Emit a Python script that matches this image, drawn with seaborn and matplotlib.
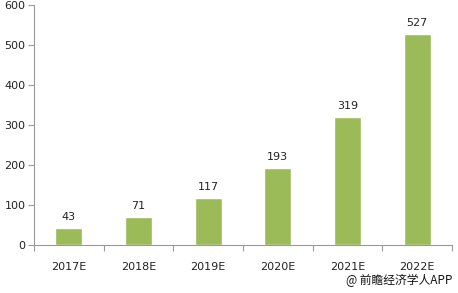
import matplotlib
matplotlib.use("Agg")
import matplotlib.pyplot as plt
import seaborn as sns
import pandas as pd
import numpy as np

categories = ["2017E", "2018E", "2019E", "2020E", "2021E", "2022E"]
values = [43, 71, 117, 193, 319, 527]

sns.set_theme(style="white")
plt.rcParams['font.family'] = ['DejaVu Sans', 'Noto Sans CJK SC']

fig = plt.figure(figsize=(4.58, 2.93), dpi=100)
ax = fig.add_axes([0.074, 0.164, 0.913, 0.819])

df = pd.DataFrame({"cat": categories, "val": values})
sns.barplot(data=df, x="cat", y="val", color="#9BBB59", saturation=1, width=0.39, ax=ax)

for i, v in enumerate(values):
    ax.text(i, v + 15, str(v), ha="center", va="bottom", fontsize=8, color="#222222")

ax.set_ylim(0, 600)
ax.set_xlim(-0.5, 5.5)
ax.set_yticks(range(0, 601, 100))
ax.set_xlabel("")
ax.set_ylabel("")
for s in ["top", "right"]:
    ax.spines[s].set_visible(False)
for s in ["left", "bottom"]:
    ax.spines[s].set_color("#999999")
    ax.spines[s].set_linewidth(0.8)
ax.tick_params(axis="y", left=True, length=4, width=0.8, color="#999999", labelsize=8, labelcolor="#222222", pad=2)
ax.tick_params(axis="x", bottom=False, labelsize=8, labelcolor="#222222", pad=6)
ax.set_xticks(np.arange(-0.5, 6, 1), minor=True)
ax.tick_params(axis="x", which="minor", bottom=True, length=4, width=0.8, color="#999999")

fig.text(0.987, 0.02, "@ 前瞻经济学人APP", ha="right", va="bottom", fontsize=8.5,
         family=['Noto Sans CJK SC', 'DejaVu Sans'], color="#111111")

fig.savefig("out.png", dpi=100)
